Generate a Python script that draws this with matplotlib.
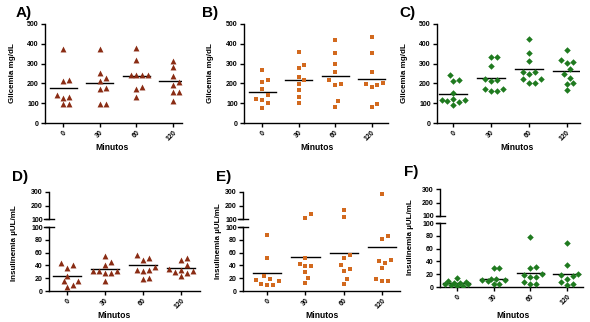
#!/usr/bin/env python3

import matplotlib; matplotlib.use('Agg')
import numpy as np
import matplotlib.pyplot as plt

W, H = 590, 322
minutos = ['0', '30', '60', '120']

# Glicemia mg/dL (A, B, C)
glic_a = [[375, 210, 218, 131, 128, 140, 98, 98],
          [375, 252, 225, 214, 175, 172, 98, 98],
          [379, 320, 241, 241, 241, 241, 180, 172, 130],
          [315, 281, 237, 207, 194, 158, 158, 109]]
glic_a_mean = [177, 202, 239, 214]

glic_b = [[268, 215, 207, 172, 143, 123, 118, 101, 76],
          [357, 291, 279, 231, 219, 197, 165, 133, 103],
          [421, 354, 298, 256, 217, 199, 194, 109, 82],
          [433, 354, 258, 202, 199, 192, 182, 96, 81]]
glic_b_mean = [157, 219, 237, 222]

glic_c = [[241, 214, 219, 152, 121, 118, 114, 109, 104, 91],
          [333, 333, 290, 222, 219, 212, 172, 172, 162, 160],
          [426, 354, 315, 258, 258, 249, 224, 224, 204, 204],
          [367, 320, 308, 303, 273, 249, 226, 200, 198, 167]]
glic_c_mean = [148, 227, 273, 263]

# Insulinemia uUL/mL (D, E, F)
ins_d = [[43, 41, 36, 23, 15, 15, 10, 6],
         [55, 45, 41, 31, 31, 31, 28, 28, 16],
         [56, 52, 49, 37, 33, 33, 31, 20, 19],
         [51, 49, 40, 34, 33, 32, 29, 28, 23]]
ins_d_mean = [24, 34, 40, 36]

ins_e = [[88, 51, 24, 19, 17, 15, 11, 10, 10],
         [140, 110, 51, 42, 39, 39, 29, 20, 12],
         [170, 115, 56, 51, 41, 35, 32, 19, 11],
         [285, 86, 82, 49, 47, 44, 36, 18, 16, 16]]
ins_e_mean = [28, 53, 59, 69]

ins_f = [[14, 9, 8, 7, 6, 5, 4, 3, 2, 1],
         [30, 30, 13, 12, 11, 10, 11, 5, 5],
         [78, 32, 29, 20, 18, 16, 15, 8, 5, 4],
         [68, 34, 20, 18, 17, 13, 8, 5, 3]]
ins_f_mean = [7, 13, 22, 21]

RED = '#8a2c14'
ORANGE = '#d2691e'
GREEN = '#1f7a1f'

plt.rcParams['font.family'] = ['Liberation Sans', 'DejaVu Sans']
plt.rcParams['font.weight'] = 'bold'

fig = plt.figure(figsize=(W / 100, H / 100), dpi=100)


def rect(l, r, t, b):
  return [l / W, 1 - b / H, (r - l) / W, (b - t) / H]


def txt(x, y, s, **kw):
  fig.text(x / W, 1 - y / H, s, **kw)


def swarm(ypx, d=5.8, wmax=13):
  """x offsets (px) so points with close values sit side by side."""
  offs = np.zeros(len(ypx))
  placed = []
  for i in np.argsort(ypx):
    best, bd = 0, -1
    for k in range(30):
      for c in ([0] if k == 0 else [k * d / 2, -k * d / 2]):
        if abs(c) > wmax:
          continue
        dist = min([(c - px) ** 2 + (ypx[i] - py) ** 2 for px, py in placed] or [1e9])
        if dist >= d * d:
          best, bd = c, 1e9
          break
        if dist > bd:
          best, bd = c, dist
      if bd >= 1e9:
        break
    offs[i] = best
    placed.append((best, ypx[i]))
  return offs


def style(ax):
  for s in ['top', 'right']:
    ax.spines[s].set_visible(False)
  for s in ['left', 'bottom']:
    ax.spines[s].set_linewidth(1.0)
  ax.tick_params(length=3, width=1.0, labelsize=5, pad=1.5)
  for lab in ax.get_yticklabels() + ax.get_xticklabels():
    lab.set_fontweight('bold')


def glic_panel(rc, xlim, data, means, color, marker, ms):
  ax = fig.add_axes(rect(*rc))
  ppu = (rc[1] - rc[0]) / (xlim[1] - xlim[0])
  ypu = (rc[3] - rc[2]) / 500
  for i, vals in enumerate(data):
    v = np.array(vals, float)
    ax.scatter(i + swarm(v * ypu) / ppu, v, s=ms, marker=marker, color=color,
               linewidths=0, zorder=3)
    ax.plot([i - 0.37, i + 0.37], [means[i]] * 2, color='k', lw=1.0, zorder=2)
  ax.set_xlim(*xlim)
  ax.set_ylim(0, 500)
  ax.set_yticks(range(0, 501, 100))
  ax.set_xticks(range(4))
  ax.set_xticklabels(minutos, rotation=45, ha='right', rotation_mode='anchor')
  style(ax)
  return ax


def ins_panel(rc, top, xlim, data, means, color, marker, ms):
  l, r, t, b = rc
  lo = fig.add_axes(rect(l, r, t, b))
  hi = fig.add_axes(rect(l, r, top[0], top[1]))
  ppu = (r - l) / (xlim[1] - xlim[0])
  lo_pu = (b - t) / 100
  hi_pu = (top[1] - top[0]) / 200
  gap = t - top[1]
  for i, vals in enumerate(data):
    v = np.array(vals, float)
    ypx = np.where(v <= 100, v * lo_pu, 100 * lo_pu + gap + (v - 100) * hi_pu)
    x = i + swarm(ypx) / ppu
    m = v <= 100
    lo.scatter(x[m], v[m], s=ms, marker=marker, color=color, linewidths=0, zorder=3)
    hi.scatter(x[~m], v[~m], s=ms, marker=marker, color=color, linewidths=0, zorder=3)
    lo.plot([i - 0.37, i + 0.37], [means[i]] * 2, color='k', lw=1.0, zorder=2)
  lo.set_xlim(*xlim)
  hi.set_xlim(*xlim)
  lo.set_ylim(0, 100)
  hi.set_ylim(100, 300)
  lo.set_yticks(range(0, 101, 20))
  hi.set_yticks([100, 200, 300])
  lo.set_xticks(range(4))
  lo.set_xticklabels(minutos, rotation=45, ha='right', rotation_mode='anchor')
  hi.set_xticks([])
  style(lo)
  style(hi)
  hi.spines['bottom'].set_visible(False)
  # break marks
  for ax, yy in [(lo, 1), (hi, 0)]:
    ax.plot([-0.03, 0.035], [yy, yy], transform=ax.transAxes, color='k',
            lw=1.0, clip_on=False)
  return lo


glic_panel((45, 182, 24, 123), (-0.5, 3.25), glic_a, glic_a_mean, RED, '^', 18)
glic_panel((244, 388, 24, 123), (-0.5, 3.45), glic_b, glic_b_mean, ORANGE, 's', 12)
glic_panel((437, 580, 24, 123), (-0.43, 3.35), glic_c, glic_c_mean, GREEN, 'D', 11)

ins_panel((49, 200, 227, 291), (192, 219), (-0.47, 3.5), ins_d, ins_d_mean, RED, '^', 18)
ins_panel((243, 400, 227, 291), (192, 219), (-0.63, 3.47), ins_e, ins_e_mean, ORANGE, 's', 12)
ins_panel((440, 583, 223, 287), (189, 216), (-0.46, 3.44), ins_f, ins_f_mean, GREEN, 'D', 11)

# panel letters
for x, y, s in [(16, 6, 'A)'), (202, 6, 'B)'), (399, 6, 'C)'),
                (12, 170, 'D)'), (216, 170, 'E)'), (404, 165, 'F)')]:
  txt(x, y, s, fontsize=11, fontweight='bold', va='top', ha='left')

# axis labels
for x, y in [(13, 73), (211, 73), (405, 73)]:
  txt(x, y, 'Glicemia mg/dL', fontsize=5.8, rotation=90, ha='center', va='center')
for x, y in [(15, 243), (219, 241), (411, 237)]:
  txt(x, y, 'Insulinemia \u00b5UL/mL', fontsize=5.8, rotation=90, ha='center', va='center')
for x, y in [(112, 147), (317, 147), (517, 147), (114, 316), (322, 316), (513, 315)]:
  txt(x, y, 'Minutos', fontsize=6.2, ha='center', va='center')

plt.savefig('out.png', dpi=100)
